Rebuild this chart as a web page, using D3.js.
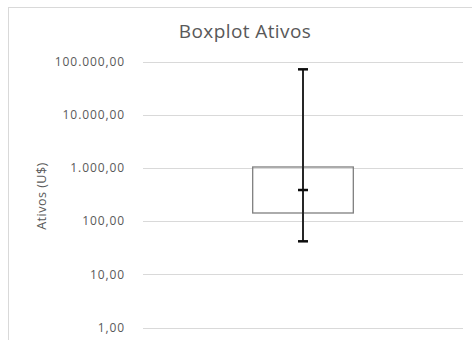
<!DOCTYPE html>
<html>
<head>
<meta charset="utf-8">
<script src="https://cdn.jsdelivr.net/npm/d3@7/dist/d3.min.js"></script>
<style>
  html, body { margin: 0; padding: 0; background: #fff; }
  svg { display: block; }
  text { font-family: "Open Sans", "Noto Sans", sans-serif; fill: #595959; }
</style>
</head>
<body>
<svg id="chart" width="472" height="340"></svg>
<script>
// Tick values for the logarithmic value axis
const tickValues = [1, 10, 100, 1000, 10000, 100000];
// Boxplot summary for "Ativos" (US$)
const category = ["Ativos"];
const whiskerLow = [41.7];
const quartile1 = [142];
const median = [384];
const quartile3 = [1040];
const whiskerHigh = [71300];

const svg = d3.select("#chart");
const W = 472, H = 340;

// chart frame
svg.append("rect")
  .attr("x", 8.5).attr("y", 7.5)
  .attr("width", W).attr("height", H)
  .attr("fill", "#fff").attr("stroke", "#d9d9d9").attr("stroke-width", 1);

const plot = { left: 143, right: 463, top: 61.5, bottom: 327.5 };

const y = d3.scaleLog().domain([1, 100000]).range([plot.bottom, plot.top]);
const x = d3.scaleBand().domain(category).range([plot.left, plot.right])
  .paddingInner(0).paddingOuter(1.09);

// gridlines
svg.append("g").selectAll("line").data(tickValues).join("line")
  .attr("x1", plot.left).attr("x2", plot.right)
  .attr("y1", d => Math.round(y(d)) + 0.5).attr("y2", d => Math.round(y(d)) + 0.5)
  .attr("stroke", "#d9d9d9").attr("stroke-width", 1);

// value axis labels
const fmt = d3.formatLocale({ decimal: ",", thousands: ".", grouping: [3], currency: ["", ""] }).format(",.2f");
const axis = d3.axisLeft(y).tickValues(tickValues).tickFormat(fmt).tickSize(0).tickPadding(18);
const gAxis = svg.append("g").attr("transform", `translate(${plot.left},0)`).call(axis);
gAxis.select(".domain").remove();
gAxis.selectAll("text")
  .style("font-family", '"Open Sans", sans-serif')
  .style("font-size", "12px")
  .style("letter-spacing", "0.9px")
  .attr("fill", "#595959");

// title
svg.append("text")
  .attr("x", 245).attr("y", 38)
  .attr("text-anchor", "middle")
  .style("font-size", "19px")
  .style("letter-spacing", "0.4px")
  .text("Boxplot Ativos");

// axis title
svg.append("text")
  .attr("transform", "translate(46,196) rotate(-90)")
  .attr("text-anchor", "middle")
  .style("font-size", "12.5px")
  .style("letter-spacing", "0.5px")
  .text("Ativos (U$)");

// box
const cx = d => x(d) + x.bandwidth() / 2;
const capW = 10;
const g = svg.append("g");
category.forEach((c, i) => {
  g.append("rect")
    .attr("x", x(c)).attr("width", x.bandwidth())
    .attr("y", y(quartile3[i])).attr("height", y(quartile1[i]) - y(quartile3[i]))
    .attr("fill", "none").attr("stroke", "#7f7f7f").attr("stroke-width", 1.3);
  // whisker stem
  g.append("line")
    .attr("x1", cx(c)).attr("x2", cx(c))
    .attr("y1", y(whiskerHigh[i])).attr("y2", y(whiskerLow[i]))
    .attr("stroke", "#262626").attr("stroke-width", 2);
  // caps and median mark
  [whiskerHigh[i], whiskerLow[i], median[i]].forEach(v => {
    g.append("line")
      .attr("x1", cx(c) - capW / 2).attr("x2", cx(c) + capW / 2)
      .attr("y1", y(v)).attr("y2", y(v))
      .attr("stroke", "#0d0d0d").attr("stroke-width", 2.5);
  });
});
</script>
</body>
</html>
